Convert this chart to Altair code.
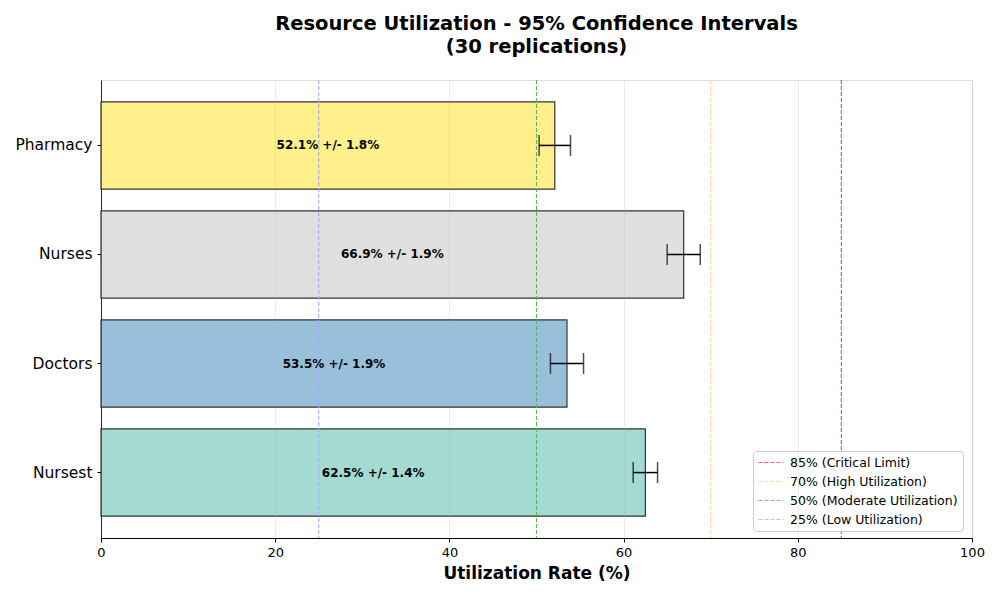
import altair as alt
import pandas as pd

# Data (bottom to top in the picture)
resources = ["Nursest", "Doctors", "Nurses", "Pharmacy"]
means = [62.5, 53.5, 66.9, 52.1]
ci_half = [1.4, 1.9, 1.9, 1.8]
bar_colors = ["#8dd3c7", "#80b1d3", "#d9d9d9", "#ffed6f"]

ref_values = [85, 70, 50, 25]
ref_labels = ["85% (Critical Limit)", "70% (High Utilization)",
              "50% (Moderate Utilization)", "25% (Low Utilization)"]
ref_colors = ["#f03c3c", "#ffd28a", "#5cb35c", "#a8a8ff"]

order_top_down = ["Pharmacy", "Nurses", "Doctors", "Nursest"]

df = pd.DataFrame({
    "resource": resources,
    "mean": means,
    "ci": ci_half,
    "color": bar_colors,
})
df["lo"] = df["mean"] - df["ci"]
df["hi"] = df["mean"] + df["ci"]
df["half"] = df["mean"] / 2
df["label"] = [f"{m:.1f}% +/- {c:.1f}%" for m, c in zip(means, ci_half)]

refs = pd.DataFrame({"value": ref_values, "label": ref_labels})

FONT = "DejaVu Sans"

yenc = alt.Y("resource:N", sort=order_top_down, title=None,
             scale=alt.Scale(paddingInner=0.2, paddingOuter=0.2),
             axis=alt.Axis(labelFontSize=15.5, labelColor="black", labelFont=FONT,
                           tickColor="black", tickSize=4, domainColor="black",
                           labelPadding=5))
xscale = alt.Scale(domain=[0, 100], nice=False)
xaxis = alt.Axis(values=[0, 20, 40, 60, 80, 100], labelFontSize=13, labelFont=FONT,
                 labelColor="black", tickColor="black", tickSize=4,
                 domainColor="black", grid=True, gridColor="#b0b0b0",
                 gridOpacity=0.3, gridWidth=0.8, title="Utilization Rate (%)",
                 titleFontSize=17, titleFont=FONT, titleFontWeight="bold",
                 titleColor="black", titlePadding=6, labelPadding=4, zindex=1,
                 labelFlush=False)

bars = alt.Chart(df).mark_bar(stroke="black", strokeWidth=1.2, opacity=0.8).encode(
    x=alt.X("mean:Q", scale=xscale, axis=xaxis),
    y=yenc,
    color=alt.Color("color:N", scale=None),
)

err = alt.Chart(df).mark_rule(color="black", strokeWidth=1.5).encode(
    x="lo:Q", x2="hi:Q", y=alt.Y("resource:N", sort=order_top_down)
)
caps_lo = alt.Chart(df).mark_tick(color="black", thickness=1.5, size=21,
                                  orient="vertical").encode(
    x="lo:Q", y=alt.Y("resource:N", sort=order_top_down)
)
caps_hi = alt.Chart(df).mark_tick(color="black", thickness=1.5, size=21,
                                  orient="vertical").encode(
    x="hi:Q", y=alt.Y("resource:N", sort=order_top_down)
)

labels = alt.Chart(df).mark_text(font=FONT, fontWeight="bold", fontSize=12,
                                 color="black", align="center",
                                 baseline="middle").encode(
    x="half:Q", y=alt.Y("resource:N", sort=order_top_down), text="label:N"
)

rules = alt.Chart(refs).mark_rule(strokeDash=[4, 2], strokeWidth=1.1).encode(
    x="value:Q",
    color=alt.Color("label:N", sort=ref_labels,
                    scale=alt.Scale(domain=ref_labels, range=ref_colors),
                    legend=alt.Legend(title=None, orient="none", legendX=652,
                                      legendY=371, symbolType="stroke",
                                      symbolSize=625, symbolStrokeWidth=1,
                                      symbolDash=[4, 2], labelFontSize=12.5,
                                      labelFont=FONT, labelColor="black",
                                      labelLimit=400, clipHeight=13,
                                      fillColor="white", strokeColor="#cccccc",
                                      cornerRadius=3, padding=5, rowPadding=6,
                                      labelOffset=6)),
)

chart = alt.layer(bars, rules, err, caps_lo, caps_hi, labels).properties(
    width=871, height=458,
    title=alt.TitleParams(
        text=["Resource Utilization - 95% Confidence Intervals", "(30 replications)"],
        font=FONT, fontSize=19.5, fontWeight="bold", color="black",
        anchor="middle", offset=22, lineHeight=23),
    autosize=alt.AutoSizeParams(type="none"),
    padding={"left": 101, "top": 80, "right": 28, "bottom": 62},
).configure_view(stroke="black", strokeWidth=1).configure(background="white")

chart.save("out.html", embed_options={"renderer": "svg", "actions": False})
